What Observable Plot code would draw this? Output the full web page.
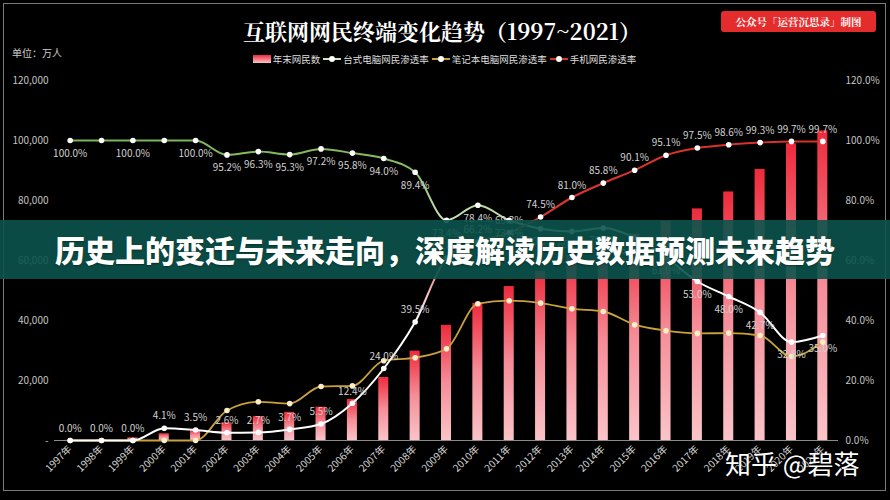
<!DOCTYPE html>
<html><head><meta charset="utf-8">
<script src="https://cdn.jsdelivr.net/npm/d3@7"></script>
<script src="https://cdn.jsdelivr.net/npm/@observablehq/plot@0.6"></script>
<style>
html,body{margin:0;padding:0;background:#000;}
#wrap{position:relative;width:890px;height:500px;background:#000;overflow:hidden;font-family:"Noto Sans CJK SC","Noto Sans",sans-serif;}
#chart{position:absolute;left:0;top:0;}
#frame{position:absolute;left:3px;top:3px;width:883px;height:488px;border:1.5px solid #7a7a7a;box-sizing:border-box;pointer-events:none;}
#title{position:absolute;top:15px;left:0;width:884px;text-align:center;font-size:22px;font-weight:700;color:#fff;font-family:"Noto Serif CJK SC","Noto Sans CJK SC",serif;}
#badge{position:absolute;left:721px;top:11px;width:155px;height:21px;background:#e42c2c;border-radius:3px;color:#fff;font-size:10.5px;line-height:21px;text-align:center;font-weight:700;font-family:"Noto Serif CJK SC","Noto Sans CJK SC",serif;}
#unit{position:absolute;left:12px;top:45px;font-size:10px;color:#ccc;}
#legend{position:absolute;top:52px;left:0;width:889px;display:flex;justify-content:center;align-items:center;font-size:9.5px;color:#ddd;gap:3px;}
.li{display:flex;align-items:center;gap:2px;}
.sw{width:18px;height:8px;background:linear-gradient(#ee2a3c,#fac4c8);}
.ln{position:relative;width:18px;height:2px;}
.ln i{position:absolute;left:6px;top:-2.5px;width:6px;height:6px;border-radius:50%;background:#fff;}
#banner{position:absolute;left:0;top:220px;width:890px;height:59px;background:rgba(11,84,77,0.9);color:#fff;font-size:30px;font-weight:900;line-height:59px;text-align:center;text-shadow:0 1px 2px rgba(0,0,0,0.4);}
#wm{position:absolute;left:725px;top:444px;font-size:26px;color:#fff;text-shadow:0 0 3px rgba(0,0,0,0.6);}
</style>
</head><body>
<div id="wrap">
  <div id="chart"></div>
  <div id="frame"></div>
  <div id="title">互联网网民终端变化趋势（1997~2021）</div>
  <div id="badge">公众号「运营沉思录」制图</div>
  <div id="unit">单位：万人</div>
  <div id="legend"></div>
  <div id="banner">历史上的变迁与未来走向，深度解读历史数据预测未来趋势</div>
  <div id="wm">知乎 @碧落</div>
</div>
<script>
const years = ["1997年","1998年","1999年","2000年","2001年","2002年","2003年","2004年","2005年","2006年","2007年","2008年","2009年","2010年","2011年","2012年","2013年","2014年","2015年","2016年","2017年","2018年","2019年","2020年","2021年"];
const netizens = [62,210,890,2250,3370,5910,7950,9400,11100,13700,21000,29800,38400,45730,51310,56400,61758,64875,68826,73125,77198,82851,90359,98899,103195];
const desktop = [100,100,100,100,100,95.2,96.3,95.3,97.2,95.8,94.0,89.4,73.4,78.4,73.4,70.6,69.7,70.8,67.6,61.0,53.0,48.0,42.7,32.8,35.0];
const laptop = [0,0,0,0,0,10.0,12.9,12.3,18.0,18.2,26.6,27.6,30.6,45.6,46.6,45.8,43.9,43.0,38.6,36.6,35.7,35.8,35.0,28.0,32.8];
const mobile = [0,0,0,4.1,3.5,2.6,2.7,3.7,5.5,12.4,24.0,39.5,60.8,66.2,69.3,74.5,81.0,85.8,90.1,95.1,97.5,98.6,99.3,99.7,99.7];
const leftTicks = [0,20000,40000,60000,80000,100000,120000];
const seriesNames = ["年末网民数","台式电脑网民渗透率","笔记本电脑网民渗透率","手机网民渗透率"];

const rows = years.map((y,i)=>({year:y, netizens:netizens[i], desktop:desktop[i], laptop:laptop[i], mobile:mobile[i], i}));
const deskLabelRows = rows.filter(r => r.i >= 5 || r.i % 2 === 0);
const pct = v => v.toFixed(1) + "%";

const chart = Plot.plot({
  width: 890, height: 500,
  marginTop: 80, marginBottom: 60, marginLeft: 54, marginRight: 52,
  style: {background:"transparent", color:"#c8c8c8", fontSize:"10px", fontFamily:"'Noto Sans CJK SC','Noto Sans',sans-serif"},
  x: {domain: years, paddingInner: 0.68, paddingOuter: 0.34, round: false, axis: null, label: null},
  y: {domain: [0,120000], axis: null, label: null},
  marks: [
    Plot.barY(rows, {x:"year", y:"netizens", fill:"url(#barGrad)"}),
    Plot.ruleY([0], {stroke:"#8a8a8a", strokeWidth:1.2}),
    Plot.axisY({anchor:"left", label:null, ticks:leftTicks, tickSize:0, tickPadding:6, fill:"#c4c4c4", tickFormat:d => d===0 ? "-" : d3.format(",")(d)}),
    Plot.axisY({anchor:"right", label:null, ticks:leftTicks, tickSize:0, tickPadding:7, fill:"#c4c4c4", textAnchor:"start", tickFormat:d => (d/1000).toFixed(1)+"%"}),
    Plot.axisX({anchor:"bottom", label:null, tickSize:0, tickPadding:7, tickRotate:-45, fill:"#dcdcdc"}),
    Plot.line(rows, {x:"year", y:d=>d.laptop*1000, stroke:"#c9a23c", strokeWidth:1.8, curve:"monotone-x"}),
    Plot.line(rows, {x:"year", y:d=>d.desktop*1000, stroke:"url(#deskGrad)", strokeWidth:2, curve:"monotone-x"}),
    Plot.line(rows, {x:"year", y:d=>d.mobile*1000, stroke:"url(#mobGrad)", strokeWidth:2, curve:"monotone-x"}),
    Plot.dot(rows, {x:"year", y:d=>d.laptop*1000, r:2.8, fill:"#fbeccb", stroke:"none"}),
    Plot.dot(rows, {x:"year", y:d=>d.desktop*1000, r:2.8, fill:"#fff", stroke:"none"}),
    Plot.dot(rows, {x:"year", y:d=>d.mobile*1000, r:2.8, fill:"#fff", stroke:"none"}),
    Plot.text(deskLabelRows, {x:"year", y:d=>d.desktop*1000, text:d=>pct(d.desktop), dy:13, fill:"#d2d2d2"}),
    Plot.text(rows, {x:"year", y:d=>d.mobile*1000, text:d=>pct(d.mobile), dy:-12, fill:"#d2d2d2"})
  ]
});

const NS = "http://www.w3.org/2000/svg";
const defs = document.createElementNS(NS, "defs");
defs.innerHTML = `
<linearGradient id="barGrad" x1="0" y1="0" x2="0" y2="1">
  <stop offset="0" stop-color="#ee2a3c"/><stop offset="0.5" stop-color="#f58d98"/><stop offset="1" stop-color="#fac4c8"/>
</linearGradient>
<linearGradient id="deskGrad" x1="0" y1="0" x2="0" y2="1">
  <stop offset="0" stop-color="#7db65a"/><stop offset="0.16" stop-color="#8cc068"/><stop offset="0.38" stop-color="#c8e2b4"/><stop offset="0.6" stop-color="#ffffff"/><stop offset="1" stop-color="#ffffff"/>
</linearGradient>
<linearGradient id="mobGrad" x1="0" y1="0" x2="0" y2="1">
  <stop offset="0" stop-color="#d8322a"/><stop offset="0.3" stop-color="#dc3a30"/><stop offset="0.47" stop-color="#f0a0a0"/><stop offset="0.6" stop-color="#ffffff"/><stop offset="1" stop-color="#ffffff"/>
</linearGradient>`;
chart.insertBefore(defs, chart.firstChild);
document.getElementById("chart").appendChild(chart);

// legend
const legendColors = [null, "#cfe6bf", "#c9a23c", "#d9342b"];
const lg = document.getElementById("legend");
seriesNames.forEach((name, k) => {
  const item = document.createElement("div");
  item.className = "li";
  let sym;
  if (k === 0) { sym = document.createElement("div"); sym.className = "sw"; }
  else {
    sym = document.createElement("div"); sym.className = "ln"; sym.style.background = legendColors[k];
    const dot = document.createElement("i"); sym.appendChild(dot);
  }
  const t = document.createElement("span"); t.textContent = name;
  item.appendChild(sym); item.appendChild(t);
  lg.appendChild(item);
});
</script>
</body></html>
